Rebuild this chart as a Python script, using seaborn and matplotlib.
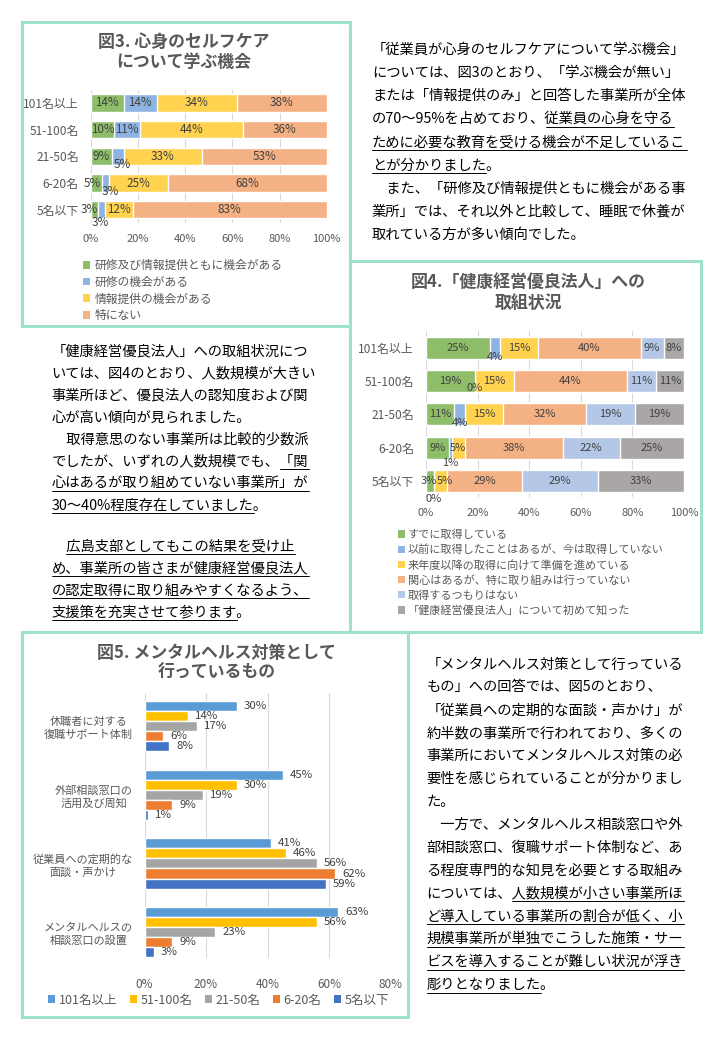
import numpy as np
import pandas as pd
import matplotlib
matplotlib.use('Agg')
import matplotlib.pyplot as plt
import seaborn as sns
from matplotlib.patches import Rectangle, Patch
from matplotlib.lines import Line2D
from matplotlib import font_manager
from matplotlib.ft2font import FT2Font

# ---------------- data ----------------
sizes = ['101名以上', '51-100名', '21-50名', '6-20名', '5名以下']

# 図3 心身のセルフケアについて学ぶ機会 (%)
fig3_labels = ['研修及び情報提供ともに機会がある', '研修の機会がある',
               '情報提供の機会がある', '特にない']
fig3_both = [14, 10, 9, 5, 3]
fig3_training = [14, 11, 5, 3, 3]
fig3_info = [34, 44, 33, 25, 12]
fig3_none = [38, 36, 53, 68, 83]

# 図4 「健康経営優良法人」への取組状況 (%)
fig4_labels = ['すでに取得している',
               '以前に取得したことはあるが、今は取得していない',
               '来年度以降の取得に向けて準備を進めている',
               '関心はあるが、特に取り組みは行っていない',
               '取得するつもりはない',
               '「健康経営優良法人」について初めて知った']
fig4_have = [25, 19, 11, 9, 3]
fig4_before = [4, 0, 4, 1, 0]
fig4_prep = [15, 15, 15, 5, 5]
fig4_interest = [40, 44, 32, 38, 29]
fig4_noplan = [9, 11, 19, 22, 29]
fig4_first = [8, 11, 19, 25, 33]

# 図5 メンタルヘルス対策として行っているもの (%)
fig5_items = ['休職者に対する\n復職サポート体制', '外部相談窓口の\n活用及び周知',
              '従業員への定期的な\n面談・声かけ', 'メンタルヘルスの\n相談窓口の設置']
fig5_101 = [30, 45, 41, 63]
fig5_51 = [14, 30, 46, 56]
fig5_21 = [17, 19, 56, 23]
fig5_6 = [6, 9, 62, 9]
fig5_5 = [8, 1, 59, 3]

# ---------------- style ----------------
sns.set_style('white')
plt.rcParams['font.family'] = ['Noto Sans CJK JP', 'DejaVu Sans']

fig3_colors = ['#8fbe6b', '#8db4e2', '#ffd24f', '#f4b183']
fig4_colors = ['#8fbe6b', '#8db4e2', '#ffd24f', '#f4b183', '#b4c7e7', '#aaa6a6']
fig5_colors = ['#5b9bd5', '#ffc000', '#a5a5a5', '#ed7d31', '#4472c4']
GRAY = '#595959'
LBL = '#404040'
BORDER = '#9fe1cf'

W, H = 720, 1040
fig = plt.figure(figsize=(7.2, 10.4), dpi=100)


def fx(x):
    return x / W


def fy(y):
    return 1 - y / H


def ax_at(x0, y0, x1, y1):
    return fig.add_axes([fx(x0), fy(y1), (x1 - x0) / W, (y1 - y0) / H])


def style_axis(ax, xmax, ylim, xpad, ypad, xsize, ysize):
    ax.set_xlim(0, xmax)
    ax.set_ylim(*ylim)
    ticks = np.arange(0, xmax + 1, 20)
    ax.set_xticks(ticks)
    ax.set_xticklabels([f'{t}%' for t in ticks])
    ax.xaxis.grid(True, color='#d9d9d9', lw=0.8)
    ax.yaxis.grid(False)
    ax.set_axisbelow(True)
    for s in ax.spines.values():
        s.set_visible(False)
    ax.tick_params(axis='x', length=0, pad=xpad, labelsize=xsize, labelcolor=GRAY)
    ax.tick_params(axis='y', length=0, pad=ypad, labelsize=ysize, labelcolor=GRAY)
    ax.set_xlabel('')
    ax.set_ylabel('')


def stacked(ax, series, colors, height, nudges, fs):
    vals = np.array(series, dtype=float).T
    share = vals / vals.sum(axis=1, keepdims=True) * 100
    cum = share.cumsum(axis=1)
    for k in range(share.shape[1] - 1, -1, -1):
        sns.barplot(x=cum[:, k], y=sizes, color=colors[k], orient='h', width=height,
                    saturation=1, errorbar=None, ax=ax)
    for i in range(vals.shape[0]):
        for k in range(vals.shape[1]):
            dx, dy = nudges.get((i, k), (0, 0))
            ax.annotate(f'{vals[i, k]:.0f}%', xy=(cum[i, k] - share[i, k] / 2, i),
                        xytext=(dx * 0.72, -dy * 0.72), textcoords='offset points',
                        ha='center', va='center', fontsize=fs, color=LBL)


def title(cx, ys, lines):
    for y, s in zip(ys, lines):
        fig.text(fx(cx), fy(y), s, ha='center', va='center', fontsize=12.2,
                 fontweight='bold', color=GRAY)


# ---------------- 図3 ----------------
ax3 = ax_at(90.7, 89.6, 326.7, 223.1)
stacked(ax3, [fig3_both, fig3_training, fig3_info, fig3_none], fig3_colors, 0.655,
        {(2, 1): (4, 8), (3, 0): (-4, 0), (3, 1): (4, 8), (4, 0): (-5, 0), (4, 1): (-1, 13)},
        8.4)
style_axis(ax3, 100, (4.5, -0.5), 7.5, 8.6, 8, 8.6)
title(183.3, [41.7, 61.7], ['図3. 心身のセルフケア', 'について学ぶ機会'])
fig.legend([Patch(facecolor=c, edgecolor='none') for c in fig3_colors], fig3_labels,
           loc='upper left', bbox_to_anchor=(fx(83.2), fy(259.3)), frameon=False,
           fontsize=8.5, handlelength=0.6, handleheight=0.6, handletextpad=0.35,
           labelspacing=0.3, borderpad=0, borderaxespad=0, labelcolor=GRAY)

# ---------------- 図4 ----------------
ax4 = ax_at(426, 331.2, 684, 497.4)
stacked(ax4, [fig4_have, fig4_before, fig4_prep, fig4_interest, fig4_noplan, fig4_first],
        fig4_colors, 0.66,
        {(0, 1): (0, 9), (1, 1): (0, 7), (2, 1): (0, 9), (3, 1): (0, 15), (4, 1): (0, 18),
         (4, 0): (-1, 0), (4, 2): (5, 0)}, 8)
style_axis(ax4, 100, (4.5, -0.5), 7.5, 8.6, 8, 8.6)
title(528, [281.7, 303.3], ['図4.「健康経営優良法人」への', '取組状況'])
fig.legend([Patch(facecolor=c, edgecolor='none') for c in fig4_colors], fig4_labels,
           loc='upper left', bbox_to_anchor=(fx(398.2), fy(529.6)), frameon=False,
           fontsize=8, handlelength=0.63, handleheight=0.63, handletextpad=0.25,
           labelspacing=0.4, borderpad=0, borderaxespad=0, labelcolor=GRAY)

# ---------------- 図5 ----------------
ax5 = ax_at(144.5, 692.7, 390.5, 958.3)
fig5_df = pd.DataFrame({
    '項目': fig5_items * len(sizes),
    '規模': np.repeat(sizes, len(fig5_items)),
    '割合': fig5_101 + fig5_51 + fig5_21 + fig5_6 + fig5_5,
})
sns.barplot(data=fig5_df, x='割合', y='項目', hue='規模', order=fig5_items, hue_order=sizes,
            palette=fig5_colors, width=0.736, saturation=1, errorbar=None, legend=False, ax=ax5)
for c in ax5.containers:
    ax5.bar_label(c, fmt='%g%%', padding=5, fontsize=8.2, color=LBL)
style_axis(ax5, 80, (3.383, -0.488), 14.4, 8.3, 8.5, 8)
ax5.set_yticks(range(len(fig5_items)))
ax5.set_yticklabels(fig5_items, multialignment='center', linespacing=1.3)
title(216.7, [653, 672.7], ['図5. メンタルヘルス対策として', '行っているもの'])
fig.legend([Patch(facecolor=c, edgecolor='none') for c in fig5_colors], sizes,
           loc='center left', bbox_to_anchor=(fx(48), fy(1000)), ncol=5, frameon=False,
           fontsize=9, handlelength=0.56, handleheight=0.56, handletextpad=0.3,
           columnspacing=1.0, borderpad=0, borderaxespad=0, labelcolor=GRAY)

# ---------------- frames ----------------
for x0, y0, x1, y1 in [(21.5, 22, 349.5, 326), (349.5, 261.5, 701, 631.5), (21.5, 631.5, 408, 1017)]:
    fig.add_artist(Rectangle((fx(x0), fy(y1)), (x1 - x0) / W, (y1 - y0) / H,
                             transform=fig.transFigure, fill=False, ec=BORDER, lw=2.2))

# ---------------- body text ----------------
BODY = 10.3
EM = BODY * 100 / 72
_ft = FT2Font(font_manager.findfont(font_manager.FontProperties(family='Noto Sans CJK JP')),
              hinting_factor=1)
_ft.set_size(BODY, 100)


def adv(s):
    return sum(_ft.load_char(ord(c)).linearHoriAdvance for c in s) / 65536.0


def para(lines, x0, y0, dy, blank):
    y = y0
    for line in lines:
        if line is None:
            y += blank
            continue
        base = y + 0.38 * EM
        fig.text(fx(x0), fy(base), ''.join(s for s, _ in line), fontsize=BODY,
                 ha='left', va='baseline', color='black')
        x = x0
        for s, u in line:
            w = adv(s)
            if u:
                fig.add_artist(Line2D([fx(x), fx(x + w)], [fy(base + 3.5)] * 2,
                                      transform=fig.transFigure, lw=0.7, color='black'))
            x += w
        y += dy


text1 = [
    [('「従業員が心身のセルフケアについて学ぶ機会」', False)],
    [('については、図3のとおり、「学ぶ機会が無い」', False)],
    [('または「情報提供のみ」と回答した事業所が全体', False)],
    [('の70～95%を占めており、', False), ('従業員の心身を守る', True)],
    [('ために必要な教育を受ける機会が不足しているこ', True)],
    [('とが分かりました', True), ('。', False)],
    [('　また、「研修及び情報提供ともに機会がある事', False)],
    [('業所」では、それ以外と比較して、睡眠で休養が', False)],
    [('取れている方が多い傾向でした。', False)],
]
text2 = [
    [('「健康経営優良法人」への取組状況につ', False)],
    [('いては、図4のとおり、人数規模が大きい', False)],
    [('事業所ほど、優良法人の認知度および関', False)],
    [('心が高い傾向が見られました。', False)],
    [('　取得意思のない事業所は比較的少数派', False)],
    [('でしたが、いずれの人数規模でも、', False), ('「関', True)],
    [('心はあるが取り組めていない事業所」が', True)],
    [('30～40%程度存在していました', True), ('。', False)],
    None,
    [('　', False), ('広島支部としてもこの結果を受け止', True)],
    [('め、事業所の皆さまが健康経営優良法人', True)],
    [('の認定取得に取り組みやすくなるよう、', True)],
    [('支援策を充実させて参ります', True), ('。', False)],
]
text3 = [
    [('「メンタルヘルス対策として行っている', False)],
    [('もの」への回答では、図5のとおり、', False)],
    [('「従業員への定期的な面談・声かけ」が', False)],
    [('約半数の事業所で行われており、多くの', False)],
    [('事業所においてメンタルヘルス対策の必', False)],
    [('要性を感じられていることが分かりまし', False)],
    [('た。', False)],
    [('　一方で、メンタルヘルス相談窓口や外', False)],
    [('部相談窓口、復職サポート体制など、あ', False)],
    [('る程度専門的な知見を必要とする取組み', False)],
    [('については、', False), ('人数規模が小さい事業所ほ', True)],
    [('ど導入している事業所の割合が低く、小', True)],
    [('規模事業所が単独でこうした施策・サー', True)],
    [('ビスを導入することが難しい状況が浮き', True)],
    [('彫りとなりました', True), ('。', False)],
]
para(text1, 372, 48, 23.2, 0)
para(text2, 51.5, 350, 22, 19)
para(text3, 426.5, 663, 22.9, 0)

fig.savefig('out.png', dpi=100)
